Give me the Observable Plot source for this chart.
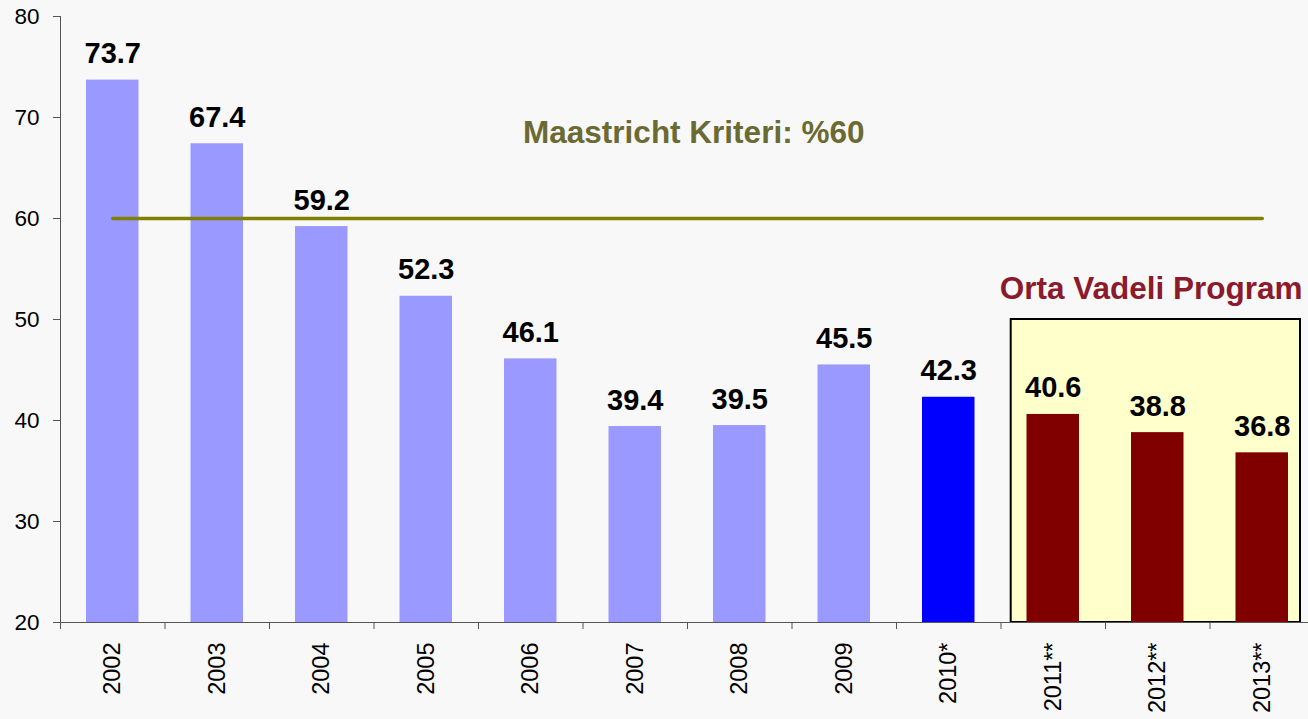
<!DOCTYPE html>
<html>
<head>
<meta charset="utf-8">
<script src="https://cdn.jsdelivr.net/npm/d3@7"></script>
<script src="https://cdn.jsdelivr.net/npm/@observablehq/plot@0.6"></script>
<style>
html, body { margin: 0; padding: 0; background: #f8f8f8; overflow: hidden; }
</style>
</head>
<body>
<div id="chart"></div>
<script>
// ---- data ----
const years = ["2002", "2003", "2004", "2005", "2006", "2007", "2008", "2009", "2010*", "2011**", "2012**", "2013**"];
const values = [73.7, 67.4, 59.2, 52.3, 46.1, 39.4, 39.5, 45.5, 42.3, 40.6, 38.8, 36.8];
const groups = ["actual", "actual", "actual", "actual", "actual", "actual", "actual", "actual", "estimate", "program", "program", "program"];
const groupNames = ["actual", "estimate", "program"];
const groupColors = ["#9999ff", "#0000ff", "#800000"];
const yTicks = [20, 30, 40, 50, 60, 70, 80];
const yDomain = [20, 80];
const criterionValue = 60;
const criterionLabel = "Maastricht Kriteri: %60";
const programLabel = "Orta Vadeli Program";
const programYears = ["2011**", "2012**", "2013**"];
const programBoxTop = 50;

const data = years.map((year, i) => ({year, value: values[i], group: groups[i]}));
const criterionLine = years.map(year => ({year, value: criterionValue}));

const axisColor = "#555";

const chart = Plot.plot({
  width: 1308,
  height: 719,
  marginLeft: 60,
  marginRight: -6,
  marginTop: 16,
  marginBottom: 97,
  style: {background: "#f8f8f8", fontFamily: "'Liberation Sans', Arial, sans-serif", color: "#000"},
  x: {domain: years, padding: 0, round: false, axis: null, label: null},
  y: {domain: yDomain, axis: null, label: null},
  color: {domain: groupNames, range: groupColors},
  marks: [
    // highlight box around the program years
    Plot.barY([programYears[1]], {x: d => d, y1: yDomain[0], y2: programBoxTop, fill: "#ffffcc", stroke: "#000", strokeWidth: 2, insetLeft: -94.3, insetRight: -90.5}),
    Plot.barY(data, {x: "year", y1: yDomain[0], y2: "value", fill: "group", insetLeft: 26, insetRight: 26}),
    Plot.lineY(criterionLine, {x: "year", y: "value", stroke: "#808000", strokeWidth: 3.5}),
    Plot.text(data, {x: "year", y: "value", text: d => d.value.toFixed(1), lineAnchor: "bottom", dy: -17, fontSize: 29, fontWeight: "bold", fill: "#000"}),
    Plot.text([criterionLabel], {x: () => "2008", y: () => 67.45, text: d => d, lineAnchor: "bottom", dx: -46, fontSize: 31.5, fontWeight: "bold", fill: "#6b6a32"}),
    Plot.text([programLabel], {x: () => programYears[0], y: () => 52, text: d => d, lineAnchor: "bottom", textAnchor: "start", dx: -53.5, fontSize: 31.5, fontWeight: "bold", fill: "#8b1a2c"}),
    Plot.axisY(yTicks, {tickSize: 7, tickPadding: 14, fontSize: 22.5, stroke: axisColor, fill: "#000", label: null}),
    Plot.frame({anchor: "left", stroke: axisColor}),
    Plot.frame({anchor: "bottom", stroke: axisColor}),
    Plot.ruleX(years, {x: d => d, y1: yDomain[0], y2: yDomain[0], insetTop: 7, dx: -52.25, stroke: axisColor}),
    Plot.axisX({tickSize: 0, tickRotate: -90, tickPadding: 20, fontSize: 23.5, fill: "#000", label: null})
  ]
});
document.getElementById("chart").appendChild(chart);
</script>
</body>
</html>
